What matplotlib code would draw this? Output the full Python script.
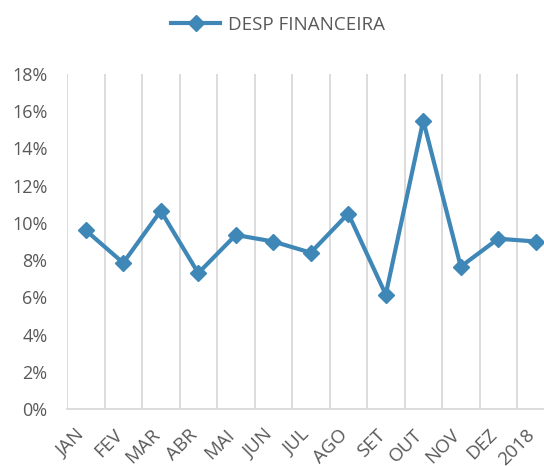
import matplotlib.pyplot as plt
from matplotlib.ticker import FuncFormatter, MultipleLocator
from matplotlib.transforms import ScaledTranslation

months = ["JAN", "FEV", "MAR", "ABR", "MAI", "JUN", "JUL", "AGO", "SET", "OUT", "NOV", "DEZ", "2018"]
desp_financeira = [9.6, 7.85, 10.65, 7.3, 9.35, 9.0, 8.4, 10.5, 6.15, 15.5, 7.65, 9.15, 9.0]

color = "#3E87B6"
text_color = "#595959"
plt.rcParams["font.family"] = ["Open Sans", "DejaVu Sans"]

fig = plt.figure(figsize=(5.44, 4.66), dpi=100)
ax = fig.add_axes([67 / 544, 1 - 409 / 466, 487.5 / 544, 335 / 466])

x = list(range(len(months)))
ax.plot(x, desp_financeira, color=color, linewidth=3, marker="D", markersize=8,
        label="DESP FINANCEIRA")

ax.set_xlim(-0.5, len(months) - 0.5)
ax.set_ylim(0, 18)
ax.yaxis.set_major_locator(MultipleLocator(2))
ax.yaxis.set_major_formatter(FuncFormatter(lambda v, p: f"{v:.0f}%"))

ax.set_xticks(x)
ax.set_xticklabels(months, rotation=45, ha="right", va="top", rotation_mode="anchor")
ax.set_xticks([i - 0.5 for i in range(len(months) + 1)], minor=True)
ax.grid(True, which="minor", axis="x", color="#D9D9D9", linewidth=1.3)
ax.tick_params(axis="both", which="both", length=0, colors=text_color, labelsize=13)
ax.tick_params(axis="x", pad=12, labelsize=13.5)
ax.tick_params(axis="y", pad=14)

# Excel-style rotated labels sit a bit to the left of their ticks
shift = ScaledTranslation(-10 / 100, 0, fig.dpi_scale_trans)
for lbl in ax.get_xticklabels():
    lbl.set_transform(lbl.get_transform() + shift)

for s in ["top", "right", "left"]:
    ax.spines[s].set_visible(False)
ax.spines["bottom"].set_color("#D9D9D9")
ax.spines["bottom"].set_linewidth(1.3)

fig.legend(loc="center", bbox_to_anchor=(278 / 544, 1 - 25 / 466), frameon=False,
           fontsize=13.5, labelcolor=text_color, handlelength=2.6, handletextpad=0.4)

fig.savefig("out.png", dpi=100)
